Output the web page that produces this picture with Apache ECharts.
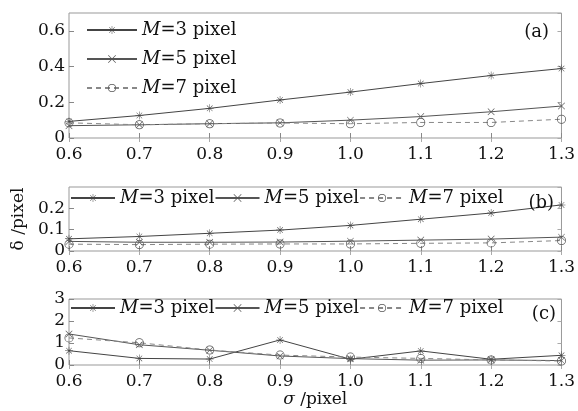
<!DOCTYPE html>
<html>
<head>
<meta charset="utf-8">
<script src="https://cdn.jsdelivr.net/npm/echarts@6/dist/echarts.min.js"></script>
<style>
  html, body { margin: 0; padding: 0; background: #fff; }
  #main { width: 578px; height: 411px; }
</style>
</head>
<body>
<div id="main"></div>
<script>
// sigma values (x axis)
var sigmaLabels = ['0.6', '0.7', '0.8', '0.9', '1.0', '1.1', '1.2', '1.3'];
var names = ['M=3 pixel', 'M=5 pixel', 'M=7 pixel'];

// (a)
var a_m3 = [0.093, 0.126, 0.166, 0.213, 0.257, 0.305, 0.350, 0.389];
var a_m5 = [0.069, 0.074, 0.080, 0.085, 0.100, 0.120, 0.147, 0.179];
var a_m7 = [0.085, 0.074, 0.080, 0.084, 0.080, 0.087, 0.087, 0.105];
// (b)
var b_m3 = [0.057, 0.068, 0.083, 0.098, 0.120, 0.149, 0.178, 0.216];
var b_m5 = [0.045, 0.041, 0.041, 0.042, 0.046, 0.051, 0.056, 0.065];
var b_m7 = [0.032, 0.030, 0.032, 0.033, 0.033, 0.036, 0.038, 0.049];
// (c)
var c_m3 = [0.65, 0.30, 0.27, 1.14, 0.26, 0.64, 0.26, 0.44];
var c_m5 = [1.41, 0.92, 0.67, 0.41, 0.29, 0.22, 0.23, 0.20];
var c_m7 = [1.23, 1.01, 0.68, 0.45, 0.36, 0.30, 0.23, 0.18];

// y axis ranges
var yMax = [0.7, 0.3, 3];
var yStep = [0.2, 0.1, 1];

var chart = echarts.init(document.getElementById('main'));
var FONT = 'DejaVu Serif';

var star = 'path://M9.4,0 L10.6,0 L10.6,20 L9.4,20 Z M0,9.4 L20,9.4 L20,10.6 L0,10.6 Z M2.5,3.4 L3.4,2.5 L17.5,16.6 L16.6,17.5 Z M16.6,2.5 L17.5,3.4 L3.4,17.5 L2.5,16.6 Z';
var cross = 'path://M0,1.2 L1.2,0 L20,18.8 L18.8,20 Z M18.8,0 L20,1.2 L1.2,20 L0,18.8 Z';
var ring = 'path://M0,10 A10,10 0 1,1 20,10 A10,10 0 1,1 0,10 Z M1.7,10 A8.3,8.3 0 1,0 18.3,10 A8.3,8.3 0 1,0 1.7,10 Z';

var grids = [
    {left: 69, right: 15, top: 13, height: 125},
    {left: 69, right: 15, top: 187, height: 64},
    {left: 69, right: 15, top: 299, height: 66}
];

var xAxes = [], yAxes = [];
grids.forEach(function(g, i){
    g.show = true;
    g.borderColor = '#999';
    g.borderWidth = 1;
    // bottom + top
    xAxes.push({
        type: 'category', gridIndex: i, data: sigmaLabels, boundaryGap: false,
        axisLine: {show: false},
        axisTick: {inside: true, length: 5, lineStyle: {color: '#888'}},
        axisLabel: {fontFamily: FONT, fontSize: 17, color: '#111', margin: 8},
        name: i == 2 ? '{i|σ} /pixel' : '',
        nameLocation: 'middle', nameGap: 25,
        nameTextStyle: {fontFamily: FONT, fontSize: 17, color: '#111',
            rich: {i: {fontFamily: FONT, fontStyle: 'italic', fontSize: 17, color: '#111'}}}
    });
    xAxes.push({
        type: 'category', gridIndex: i, data: sigmaLabels, boundaryGap: false, position: 'top',
        axisLine: {show: false},
        axisTick: {inside: true, length: 4, lineStyle: {color: '#aaa'}},
        axisLabel: {show: false}
    });
    yAxes.push({
        type: 'value', gridIndex: i, min: 0, max: yMax[i], interval: yStep[i],
        splitLine: {show: false},
        axisLine: {show: false},
        axisTick: {show: true, inside: true, length: 5, lineStyle: {color: '#888'}},
        axisLabel: {fontFamily: FONT, fontSize: 17, color: '#111', margin: 4,
            showMaxLabel: i == 2},
        name: i == 1 ? 'δ /pixel' : '',
        nameLocation: 'middle', nameGap: 35, nameRotate: 90,
        nameTextStyle: {fontFamily: FONT, fontSize: 17, color: '#111'}
    });
    yAxes.push({
        type: 'value', gridIndex: i, min: 0, max: yMax[i], interval: yStep[i], position: 'right',
        splitLine: {show: false},
        axisLine: {show: false},
        axisTick: {show: true, inside: true, length: 4, lineStyle: {color: '#aaa'}},
        axisLabel: {show: false}
    });
});

var panelData = [[a_m3, a_m5, a_m7], [b_m3, b_m5, b_m7], [c_m3, c_m5, c_m7]];
var styles = [
    {symbol: star, size: 8, color: '#444', type: 'solid'},
    {symbol: cross, size: 7, color: '#555', type: 'solid'},
    {symbol: ring, size: 9, color: '#888', type: [5, 4]}
];

var series = [];
panelData.forEach(function(set, i){
    set.forEach(function(vals, k){
        var s = styles[k];
        series.push({
            name: names[k], type: 'line', data: vals,
            xAxisIndex: i * 2, yAxisIndex: i * 2,
            symbol: s.symbol, symbolSize: s.size, showAllSymbol: true,
            lineStyle: {color: s.color, width: 1, type: s.type},
            itemStyle: {color: k == 2 ? '#555' : s.color, borderWidth: 0},
            animation: false
        });
    });
});

function fmt(name){ return '{i|M}' + name.slice(1); }
var legText = {fontFamily: FONT, fontSize: 18, color: '#111',
    rich: {i: {fontFamily: FONT, fontStyle: 'italic', fontSize: 18, color: '#111'}}};

var option = {
    backgroundColor: '#fff',
    title: [
        {text: '(a)', right: 24, top: 18, textStyle: {fontFamily: FONT, fontSize: 18, fontWeight: 'normal', color: '#111'}},
        {text: '(b)', right: 19, top: 189, textStyle: {fontFamily: FONT, fontSize: 18, fontWeight: 'normal', color: '#111'}},
        {text: '(c)', right: 17, top: 300, textStyle: {fontFamily: FONT, fontSize: 18, fontWeight: 'normal', color: '#111'}}
    ],
    legend: [
        {data: names, orient: 'vertical', left: 86, top: 21, itemGap: 11, itemWidth: 50, itemHeight: 10,
            formatter: fmt, textStyle: legText, padding: 0},
        {data: names, orient: 'horizontal', left: 70, top: 189, itemGap: 0, itemWidth: 44, itemHeight: 10,
            formatter: fmt, textStyle: legText, padding: 0},
        {data: names, orient: 'horizontal', left: 70, top: 299, itemGap: 0, itemWidth: 44, itemHeight: 10,
            formatter: fmt, textStyle: legText, padding: 0}
    ],
    grid: grids,
    xAxis: xAxes,
    yAxis: yAxes,
    series: series
};
chart.setOption(option);
</script>
</body>
</html>
